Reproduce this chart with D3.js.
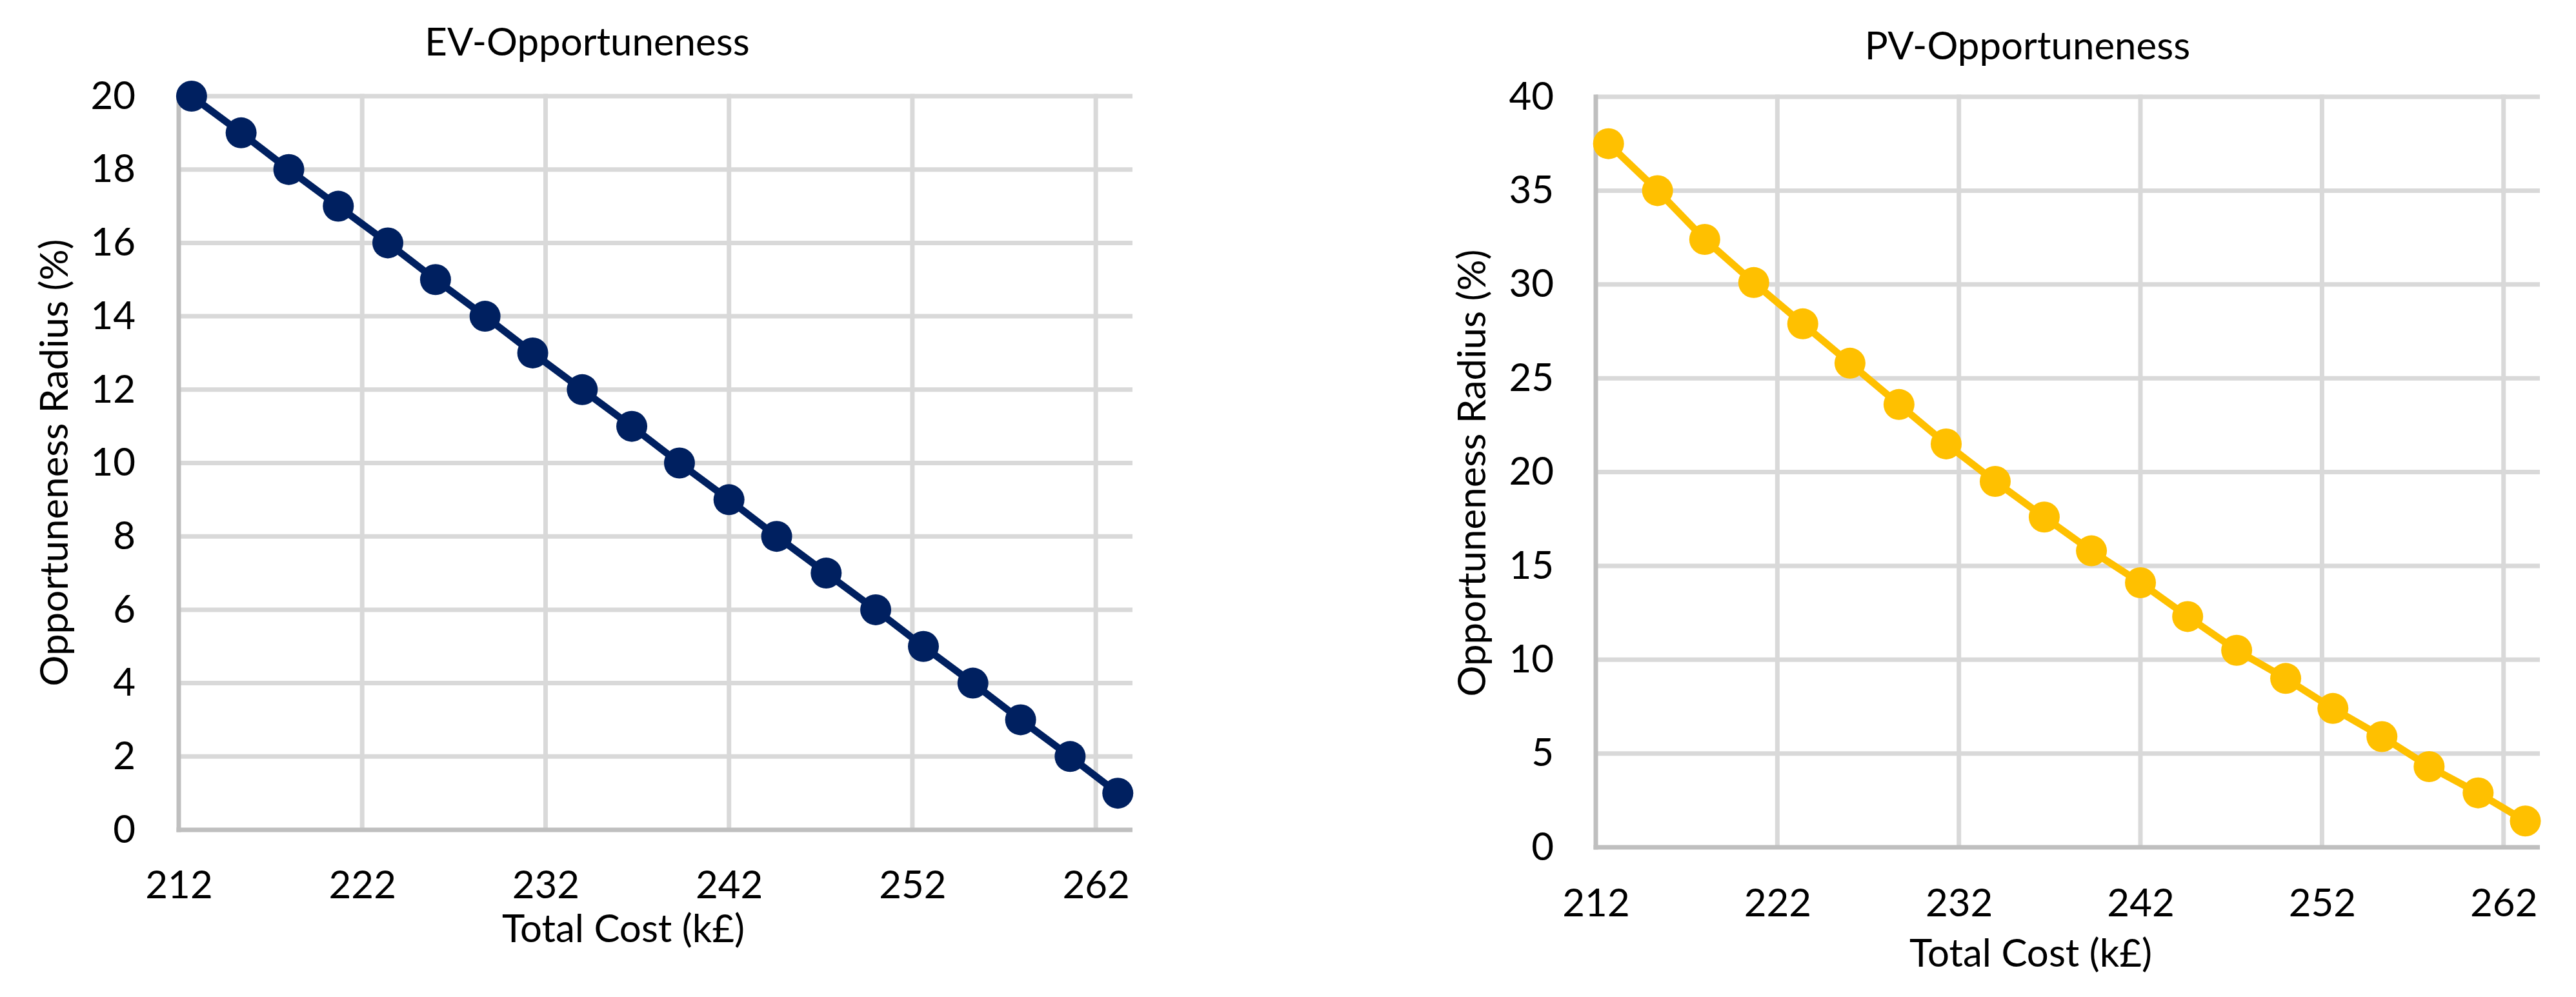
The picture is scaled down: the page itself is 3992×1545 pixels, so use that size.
<!DOCTYPE html>
<html><head><meta charset="utf-8">
<script src="https://cdn.jsdelivr.net/npm/d3@7"></script>
<style>body{margin:0;background:#fff}svg{display:block}</style>
</head><body><svg id="c" width="3992" height="1545"></svg>
<script>
// ---- data ----
const totalCost = [212.7, 215.4, 218.0, 220.7, 223.4, 226.0, 228.7, 231.3, 234.0, 236.7,
                   239.3, 242.0, 244.6, 247.3, 250.0, 252.6, 255.3, 257.9, 260.6, 263.2];
const evRadius = [20, 19, 18, 17, 16, 15, 14, 13, 12, 11, 10, 9, 8, 7, 6, 5, 4, 3, 2, 1];
const pvRadius = [37.5, 35.0, 32.4, 30.1, 27.9, 25.8, 23.6, 21.5, 19.5, 17.6,
                  15.8, 14.1, 12.3, 10.5, 9.0, 7.4, 5.9, 4.3, 2.9, 1.4];
const xTicks = [212, 222, 232, 242, 252, 262];
const evTicks = [0, 2, 4, 6, 8, 10, 12, 14, 16, 18, 20];
const pvTicks = [0, 5, 10, 15, 20, 25, 30, 35, 40];
const xDomain = [212, 264];
const evTitle = "EV-Opportuneness";
const pvTitle = "PV-Opportuneness";
const xLabel = "Total Cost (k£)";
const yLabel = "Opportuneness Radius (%)";

// ---- layout ----
const FONT = "Lato, 'Open Sans', sans-serif";
const FS = 60;
const charts = [
  {title: evTitle, values: evRadius, yTicks: evTicks, yMax: 20, color: "#002060",
   left: 277, right: 1755, top: 149, bottom: 1286,
   titleX: 910, titleY: 86, xTitleX: 966, xTitleY: 1460, yTitleX: 105, yTitleY: 717,
   xTickY: 106, yTickPad: 67},
  {title: pvTitle, values: pvRadius, yTicks: pvTicks, yMax: 40, color: "#FFC000",
   left: 2473, right: 3936, top: 150, bottom: 1313,
   titleX: 3142, titleY: 92, xTitleX: 3147, xTitleY: 1498, yTitleX: 2302, yTitleY: 733,
   xTickY: 107, yTickPad: 65}
];

const svg = d3.select("#c");
svg.append("rect").attr("width", 3992).attr("height", 1545).attr("fill", "#fff");

charts.forEach(c => {
  const x = d3.scaleLinear().domain(xDomain).range([c.left, c.right]);
  const y = d3.scaleLinear().domain([0, c.yMax]).range([c.bottom, c.top]);
  const g = svg.append("g");

  // gridlines
  g.append("g").selectAll("line").data(c.yTicks.filter(t => t !== 0)).join("line")
    .attr("x1", c.left).attr("x2", c.right)
    .attr("y1", d => y(d)).attr("y2", d => y(d))
    .attr("stroke", "#D9D9D9").attr("stroke-width", 7);
  g.append("g").selectAll("line").data(xTicks.filter(t => t !== xDomain[0])).join("line")
    .attr("x1", d => x(d)).attr("x2", d => x(d))
    .attr("y1", c.top - 3.5).attr("y2", c.bottom)
    .attr("stroke", "#D9D9D9").attr("stroke-width", 7);

  // axis lines
  g.append("line").attr("x1", c.left).attr("x2", c.left)
    .attr("y1", c.top - 3.5).attr("y2", c.bottom + 3.5)
    .attr("stroke", "#BFBFBF").attr("stroke-width", 7);
  g.append("line").attr("x1", c.left - 3.5).attr("x2", c.right)
    .attr("y1", c.bottom).attr("y2", c.bottom)
    .attr("stroke", "#BFBFBF").attr("stroke-width", 7);

  // tick labels via d3 axes
  const xa = g.append("g").attr("transform", `translate(0,${c.bottom})`)
    .call(d3.axisBottom(x).tickValues(xTicks).tickSize(0).tickFormat(d3.format("d")));
  xa.select(".domain").remove();
  xa.selectAll("text").attr("y", c.xTickY).attr("dy", 0);

  const ya = g.append("g").attr("transform", `translate(${c.left},0)`)
    .call(d3.axisLeft(y).tickValues(c.yTicks).tickSize(0).tickPadding(c.yTickPad).tickFormat(d3.format("d")));
  ya.select(".domain").remove();

  g.selectAll(".tick text").attr("font-family", FONT).attr("font-size", FS).attr("fill", "#000");

  // series
  const pts = totalCost.map((tc, i) => [tc, c.values[i]]);
  g.append("path").datum(pts)
    .attr("d", d3.line().x(d => x(d[0])).y(d => y(d[1])))
    .attr("fill", "none").attr("stroke", c.color).attr("stroke-width", 11)
    .attr("stroke-linejoin", "round");
  g.append("g").selectAll("circle").data(pts).join("circle")
    .attr("cx", d => x(d[0])).attr("cy", d => y(d[1])).attr("r", 24)
    .attr("fill", c.color);

  // titles
  g.append("text").attr("x", c.titleX).attr("y", c.titleY).attr("text-anchor", "middle")
    .attr("font-family", FONT).attr("font-size", FS).attr("fill", "#000").text(c.title);
  g.append("text").attr("x", c.xTitleX).attr("y", c.xTitleY).attr("text-anchor", "middle")
    .attr("font-family", FONT).attr("font-size", FS).attr("fill", "#000").text(xLabel);
  g.append("text").attr("transform", `translate(${c.yTitleX},${c.yTitleY}) rotate(-90)`)
    .attr("text-anchor", "middle")
    .attr("font-family", FONT).attr("font-size", FS).attr("fill", "#000").text(yLabel);
});
</script></body></html>
